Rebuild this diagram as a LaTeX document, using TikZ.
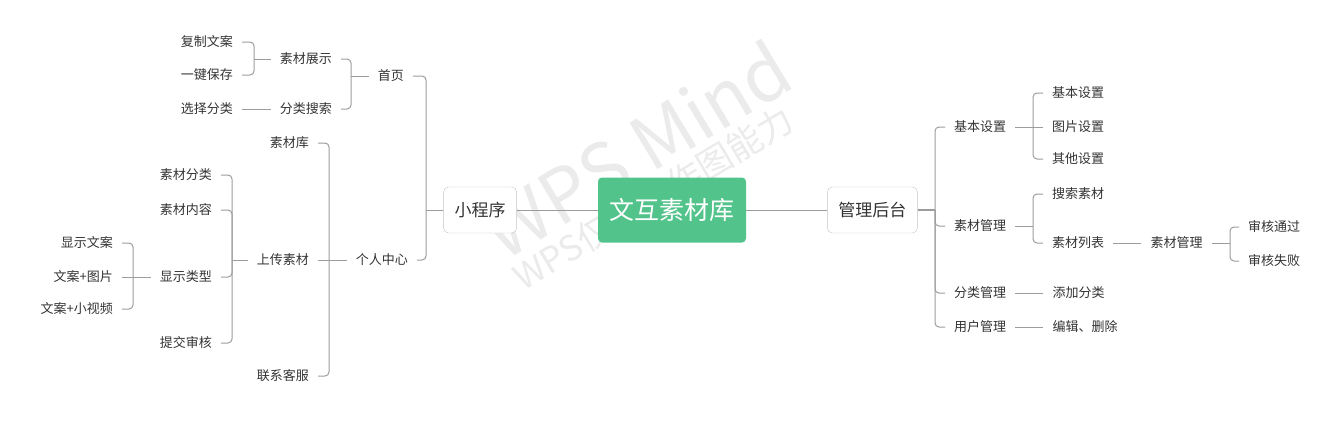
\documentclass[tikz,border=0pt]{standalone}
\usepackage{fontspec}
\setmainfont{Noto Sans CJK SC}
\usetikzlibrary{positioning}
\definecolor{mgreen}{HTML}{52C38B}
\definecolor{mtext}{HTML}{333333}
\definecolor{mline}{HTML}{9C9C9C}
\definecolor{mborder}{HTML}{C4C4C4}
\definecolor{mwater}{HTML}{EBEBEB}
\tikzstyle{root} = [rectangle, rounded corners=4pt, minimum width=148pt, minimum height=65pt, text=white, fill=mgreen, font=\fontsize{25}{30}\selectfont]
\tikzstyle{branch} = [rectangle, rounded corners=5pt, minimum height=46pt, inner xsep=11pt, draw=mborder, fill=white, text=mtext, font=\fontsize{17}{20}\selectfont]
\tikzstyle{leaf} = [inner xsep=9pt, inner ysep=3pt, text=mtext, font=\fontsize{13}{16}\selectfont]
\tikzstyle{link} = [draw=mline, line width=1pt, rounded corners=4pt]
\tikzstyle{wmark} = [text=mwater, rotate=31]

\begin{document}
\begin{tikzpicture}[x=1pt, y=-1pt, align=center, node distance=28pt]
\useasboundingbox (0,0) rectangle (1338,421);
%Watermark
\node (wm1) [wmark, font=\fontsize{74}{80}\selectfont] at (636,149) {WPS Mind};
\node (wm2) [wmark, font=\fontsize{35}{40}\selectfont] at (653,198) {WPS仅提供作图能力};
%Centre
\node (whsck) [root] at (672,210) {文互素材库};
\node (xcx) [branch, left = 81pt of whsck] {小程序};
\node (glht) [branch, right = 81pt of whsck] {管理后台};
\draw [link] (xcx) -- (whsck);
\draw [link] (whsck) -- (glht);
%Mini program
\node (sy) [leaf, anchor=east] at (413,76) {首页};
\node (grzx) [leaf, anchor=east] at (417,260) {个人中心};
\coordinate (b-xcx) at (426,210);
\draw [link] (xcx) -- (b-xcx);
\draw [link] (sy) -| (b-xcx);
\draw [link] (grzx) -| (b-xcx);
\node (zszs) [leaf, anchor=east] at (341,59) {素材展示};
\node (flss) [leaf, anchor=east] at (341,109) {分类搜索};
\coordinate (b-sy) at (351,76);
\draw [link] (sy) -- (b-sy);
\draw [link] (zszs) -| (b-sy);
\draw [link] (flss) -| (b-sy);
\node (fzwa) [leaf, anchor=east] at (242,42) {复制文案};
\node (yjbc) [leaf, anchor=east] at (242,75) {一键保存};
\node (xzfl) [leaf, anchor=east] at (242,109) {选择分类};
\coordinate (b-zszs) at (254,59);
\draw [link] (zszs) -- (b-zszs);
\draw [link] (fzwa) -| (b-zszs);
\draw [link] (yjbc) -| (b-zszs);
\draw [link] (xzfl) -- (flss);
\node (sck) [leaf, anchor=east] at (318,143) {素材库};
\node (scsc) [leaf, anchor=east] at (318,260) {上传素材};
\node (lxkf) [leaf, anchor=east] at (318,376) {联系客服};
\coordinate (b-grzx) at (329,260);
\draw [link] (grzx) -- (b-grzx);
\draw [link] (sck) -| (b-grzx);
\draw [link] (scsc) -- (b-grzx);
\draw [link] (lxkf) -| (b-grzx);
\node (scfl) [leaf, anchor=east] at (221,175) {素材分类};
\node (scnr) [leaf, anchor=east] at (221,210) {素材内容};
\node (xslx) [leaf, anchor=east] at (221,277) {显示类型};
\node (tjsh) [leaf, anchor=east] at (221,343) {提交审核};
\coordinate (b-scsc) at (232,260);
\draw [link] (scsc) -- (b-scsc);
\draw [link] (scfl) -| (b-scsc);
\draw [link] (scnr) -| (b-scsc);
\draw [link] (xslx) -| (b-scsc);
\draw [link] (tjsh) -| (b-scsc);
\node (xswa) [leaf, anchor=east] at (122,243) {显示文案};
\node (watp) [leaf, anchor=east] at (122,277) {文案+图片};
\node (wasp) [leaf, anchor=east] at (122,309) {文案+小视频};
\coordinate (b-xslx) at (133,277);
\draw [link] (xslx) -- (b-xslx);
\draw [link] (xswa) -| (b-xslx);
\draw [link] (watp) -- (b-xslx);
\draw [link] (wasp) -| (b-xslx);
%Admin
\coordinate (b-glht) at (935,210);
\draw [link, line width=1.8pt] (glht) -- (b-glht);
\node (jbsz) [leaf, anchor=west] at (945,127) {基本设置};
\node (scgl) [leaf, anchor=west] at (945,226) {素材管理};
\node (flgl) [leaf, anchor=west] at (945,293) {分类管理};
\node (yhgl) [leaf, anchor=west] at (945,327) {用户管理};
\draw [link] (jbsz) -| (b-glht);
\draw [link] (scgl) -| (b-glht);
\draw [link] (flgl) -| (b-glht);
\draw [link] (yhgl) -| (b-glht);
\node (jbsz2) [leaf, anchor=west] at (1043,93) {基本设置};
\node (tpsz) [leaf, anchor=west] at (1043,127) {图片设置};
\node (qtsz) [leaf, anchor=west] at (1043,159) {其他设置};
\coordinate (b-jbsz) at (1033,127);
\draw [link] (jbsz) -- (b-jbsz);
\draw [link] (jbsz2) -| (b-jbsz);
\draw [link] (tpsz) -- (b-jbsz);
\draw [link] (qtsz) -| (b-jbsz);
\node (sssc) [leaf, anchor=west] at (1043,194) {搜索素材};
\node (sclb) [leaf, anchor=west] at (1043,243) {素材列表};
\coordinate (b-scgl) at (1033,226);
\draw [link] (scgl) -- (b-scgl);
\draw [link] (sssc) -| (b-scgl);
\draw [link] (sclb) -| (b-scgl);
\node (scgl2) [leaf, right = of sclb] {素材管理};
\draw [link] (sclb) -- (scgl2);
\node (shtg) [leaf, anchor=west] at (1239,227) {审核通过};
\node (shsb) [leaf, anchor=west] at (1239,261) {审核失败};
\coordinate (b-scgl2) at (1230,243);
\draw [link] (scgl2) -- (b-scgl2);
\draw [link] (shtg) -| (b-scgl2);
\draw [link] (shsb) -| (b-scgl2);
\node (tjfl) [leaf, right = of flgl] {添加分类};
\node (bjsc) [leaf, right = of yhgl] {编辑、删除};
\draw [link] (flgl) -- (tjfl);
\draw [link] (yhgl) -- (bjsc);
\end{tikzpicture}
\end{document}
